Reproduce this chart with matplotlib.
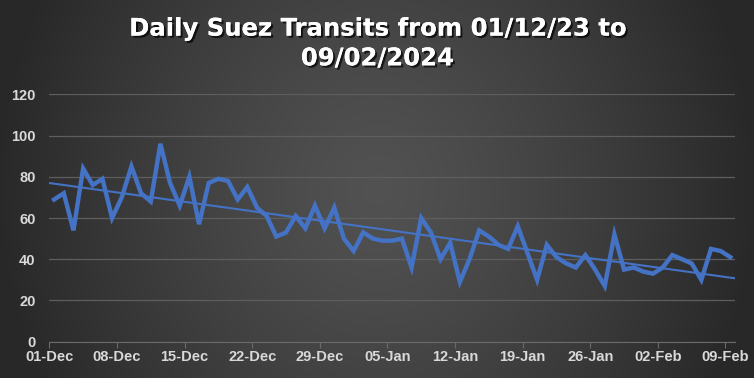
import numpy as np
import matplotlib
matplotlib.use("Agg")
import matplotlib.pyplot as plt
import matplotlib.patheffects as pe

# daily transits, 01-Dec-2023 .. 09-Feb-2024
transits = [69, 72, 54, 84, 76, 79, 60, 70, 85, 72,
            68, 96, 77, 66, 80, 57, 77, 79, 78, 69,
            75, 65, 61, 51, 53, 61, 55, 66, 55, 65,
            50, 44, 53, 50, 49, 49, 50, 36, 60, 53,
            40, 48, 29, 40, 54, 51, 47, 45, 56, 43,
            30, 47, 41, 38, 36, 42, 35, 27, 52, 35,
            36, 34, 33, 36, 42, 40, 38, 30, 45, 44, 41]
tick_labels = ["01-Dec", "08-Dec", "15-Dec", "22-Dec", "29-Dec", "05-Jan",
               "12-Jan", "19-Jan", "26-Jan", "02-Feb", "09-Feb"]
y_ticks = [0, 20, 40, 60, 80, 100, 120]
title = "Daily Suez Transits from 01/12/23 to\n09/02/2024"

blue = "#4472c4"
lab_col = "#d9d9d9"

fig = plt.figure(figsize=(7.54, 3.78), dpi=100)

# dark radial grey background, lighter in the middle
bg = fig.add_axes([0, 0, 1, 1])
yy, xx = np.mgrid[-1:1:200j, -1:1:400j]
r = np.clip(np.sqrt(xx ** 2 + (0.45 * yy) ** 2), 0, 1)
shade = 0.32 - 0.16 * r ** 1.3
img = np.dstack([shade, shade, shade])
bg.imshow(img, aspect="auto", extent=[0, 1, 0, 1])
bg.axis("off")

ax = fig.add_axes([0.0654, 0.096, 0.9096, 0.6545])
ax.patch.set_alpha(0)

days = np.arange(len(transits)) + 0.5
ax.plot(days, transits, color=blue, lw=3.2, solid_joinstyle="miter", zorder=3)

# linear trend line
k, b = np.polyfit(days, transits, 1)
tx = np.array([0.0, len(transits)])
ax.plot(tx, k * tx + b, color=blue, lw=1.5, zorder=4)

ax.set_xlim(0, len(transits))
ax.set_ylim(0, 120)
ax.set_xticks(np.arange(len(tick_labels)) * 7)
ax.set_xticklabels(tick_labels)
ax.set_yticks(y_ticks)
ax.grid(axis="y", color="#5e5e5e", lw=0.9)
ax.set_axisbelow(True)
for s in ["top", "right", "left"]:
    ax.spines[s].set_visible(False)
ax.spines["bottom"].set_color("#6a6a6a")
ax.tick_params(axis="x", colors="#6a6a6a", length=4, pad=2)
ax.tick_params(axis="y", length=0, pad=10)
for t in ax.get_xticklabels() + ax.get_yticklabels():
    t.set_color(lab_col)
    t.set_fontsize(10.5)
    t.set_fontweight("bold")
    t.set_fontfamily("Liberation Sans")

fig.text(0.5, 0.885, title, ha="center", va="center", color="white",
         fontsize=17.5, fontweight="bold", family="DejaVu Sans",
         linespacing=1.3,
         path_effects=[pe.withSimplePatchShadow(offset=(1.5, -1.5),
                                                shadow_rgbFace="black",
                                                alpha=0.7), pe.Normal()])

fig.savefig("out.png", dpi=100)
